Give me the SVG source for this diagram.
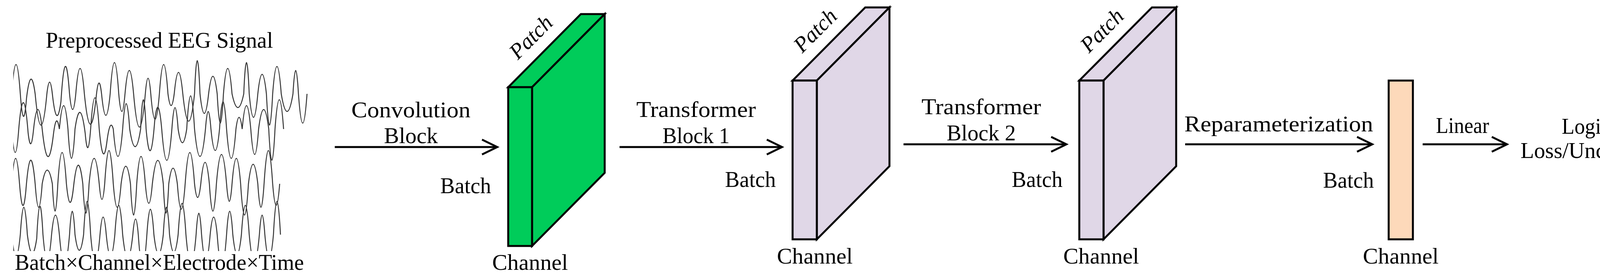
<svg xmlns="http://www.w3.org/2000/svg" width="4301" height="716" viewBox="0 0 4301 716">
<style>
.t{font-family:"Liberation Serif","DejaVu Serif",serif;font-size:56px;fill:#000}
.p{font-family:"Liberation Serif","DejaVu Serif",serif;font-size:56px;font-style:italic;fill:#000}
.c{text-anchor:middle}
.e{text-anchor:end}
.w{fill:none;stroke:#333;stroke-width:2.5}
.b{stroke:#000;stroke-width:5;stroke-linejoin:miter}
.a{stroke:#000;stroke-width:5;fill:none}
.g{fill:#00CC5A}.l{fill:#E0D7E7}.o{fill:#FDD9BA}
</style>
<defs>
<marker id="ar" markerUnits="userSpaceOnUse" markerWidth="50" markerHeight="50" refX="42" refY="22" orient="auto">
<path d="M3,3 L42,22 L3,41" fill="none" stroke="#000" stroke-width="5"/>
</marker>
<clipPath id="clip"><rect x="34" y="153" width="762" height="489"/></clipPath>
</defs>
<g id="eeg">
<text class="t c" x="408" y="122" textLength="582" lengthAdjust="spacingAndGlyphs">Preprocessed EEG Signal</text>
<g clip-path="url(#clip)">
<path class="w" d="M30,240 q11,-150 22,0 q8,110 16,10 q11,-90 22,-10 q15,160 30,0 q7,-60 14,0 q11,100 22,20 q11,-170 22,-20 q8,80 16,0 q11,-130 22,0 q15,150 30,10 q7,-70 14,-10 q11,110 22,0 q11,-160 22,0 q8,90 16,0 q11,-120 22,0 q15,170 30,0 q7,-80 14,0 q11,130 22,0 q11,-150 22,0 q8,60 16,0 q11,-110 22,0 q15,140 30,0 q7,-170 14,0 q11,100 22,0 q11,-90 22,0 q8,150 16,0 q11,-130 22,0 q15,70 30,0 q7,-160 14,0 q11,120 22,0 q11,-100 22,0 q8,160 16,0 q11,-140 22,0 q15,90 30,0 q7,-120 14,0 q11,150 22,0"/>
<path class="w" d="M30,330 q9,120 18,0 q12,-140 24,10 q7,60 14,-10 q11,-100 22,0 q14,130 28,20 q8,-70 16,-20 q11,-120 22,0 q9,150 18,0 q13,-90 26,10 q7,80 14,-10 q11,-160 22,0 q10,110 20,30 q8,-60 16,-30 q12,140 24,0 q9,-130 18,0 q14,90 28,0 q7,-150 14,0 q11,120 22,-20 q9,-80 18,20 q13,160 26,0 q8,-110 16,0 q11,70 22,0 q10,-170 20,0 q14,140 28,0 q7,-90 14,0 q11,110 22,0 q9,-140 18,0 q12,150 24,0 q8,-60 16,0 q11,-120 22,0 q10,130 20,0 q13,-100 26,0 q8,160 16,0 q11,-150 22,0"/>
<path class="w" d="M30,470 q10,-130 20,0 q8,100 16,20 q12,-150 24,-20 q9,120 18,0 q13,-70 26,0 q7,140 14,0 q11,-160 22,0 q9,90 18,10 q12,-110 24,-10 q8,150 16,0 q13,-130 26,0 q7,80 14,0 q11,-170 22,0 q10,120 20,0 q12,-90 24,0 q8,160 16,0 q11,-140 22,0 q9,100 18,0 q14,-120 28,0 q7,150 14,0 q11,-80 22,0 q10,130 20,0 q12,-160 24,0 q8,70 16,0 q11,-110 22,0 q9,140 18,0 q13,-150 26,0 q7,90 14,0 q11,-130 22,0 q10,160 20,0 q12,-100 24,0 q8,120 16,0 q11,-170 22,0 q9,110 18,0"/>
<path class="w" d="M30,600 q11,110 22,0 q9,-140 18,0 q12,90 24,10 q8,-160 16,-10 q11,130 22,0 q10,-100 20,0 q13,150 26,0 q7,-120 14,0 q11,80 22,0 q9,-170 18,0 q12,140 24,0 q8,-90 16,0 q11,110 22,0 q10,-150 20,0 q13,120 26,0 q7,-80 14,0 q11,160 22,0 q9,-130 18,0 q12,100 24,0 q8,-140 16,0 q11,90 22,0 q10,-160 20,0 q13,150 26,0 q7,-110 14,0 q11,130 22,0 q9,-90 18,0 q12,160 24,0 q8,-120 16,0 q11,100 22,0 q10,-150 20,0 q13,140 26,0 q7,-100 14,0 q11,120 22,0 q9,-170 18,0"/>
</g>
<text class="t c" x="408" y="690" textLength="740" lengthAdjust="spacingAndGlyphs">Batch×Channel×Electrode×Time</text>
</g>
<g id="conv-out">
<polygon class="b g" points="1301,223 1487,36 1548,36 1362,223"/>
<polygon class="b g" points="1362,223 1548,36 1548,442 1362,629"/>
<rect class="b g" x="1301" y="223" width="61" height="406"/>
<text class="p" transform="translate(1372,108) rotate(-45)" text-anchor="middle">Patch</text>
<text class="t e" x="1257" y="494" textLength="130" lengthAdjust="spacingAndGlyphs">Batch</text>
<text class="t c" x="1357" y="690" textLength="194" lengthAdjust="spacingAndGlyphs">Channel</text>
</g>
<g id="tf1-out">
<polygon class="b l" points="2029,206 2215,19 2277,19 2091,206"/>
<polygon class="b l" points="2091,206 2277,19 2277,425 2091,612"/>
<rect class="b l" x="2029" y="206" width="62" height="406"/>
<text class="p" transform="translate(2100,91) rotate(-45)" text-anchor="middle">Patch</text>
<text class="t e" x="1986" y="478" textLength="130" lengthAdjust="spacingAndGlyphs">Batch</text>
<text class="t c" x="2086" y="674" textLength="194" lengthAdjust="spacingAndGlyphs">Channel</text>
</g>
<g id="tf2-out">
<polygon class="b l" points="2763,206 2949,19 3011,19 2825,206"/>
<polygon class="b l" points="2825,206 3011,19 3011,425 2825,612"/>
<rect class="b l" x="2763" y="206" width="62" height="406"/>
<text class="p" transform="translate(2834,91) rotate(-45)" text-anchor="middle">Patch</text>
<text class="t e" x="2720" y="478" textLength="130" lengthAdjust="spacingAndGlyphs">Batch</text>
<text class="t c" x="2819" y="674" textLength="194" lengthAdjust="spacingAndGlyphs">Channel</text>
</g>
<g id="latent">
<rect class="b o" x="3555" y="206" width="62" height="406"/>
<text class="t e" x="3517" y="480" textLength="130" lengthAdjust="spacingAndGlyphs">Batch</text>
<text class="t c" x="3586" y="674" textLength="194" lengthAdjust="spacingAndGlyphs">Channel</text>
</g>
<g id="output">
<text class="t c" x="4088" y="342" textLength="180" lengthAdjust="spacingAndGlyphs">Logits +</text>
<text class="t c" x="4088" y="404" textLength="391" lengthAdjust="spacingAndGlyphs">Loss/Uncertainty</text>
</g>
<g id="connectors">
<line class="a" x1="857" y1="376" x2="1273" y2="376" marker-end="url(#ar)"/>
<text class="t c" x="1052" y="300" textLength="305" lengthAdjust="spacingAndGlyphs">Convolution</text>
<text class="t c" x="1052" y="366" textLength="138" lengthAdjust="spacingAndGlyphs">Block</text>
<line class="a" x1="1586" y1="376" x2="2002" y2="376" marker-end="url(#ar)"/>
<text class="t c" x="1782" y="299" textLength="306" lengthAdjust="spacingAndGlyphs">Transformer</text>
<text class="t c" x="1782" y="366" textLength="172" lengthAdjust="spacingAndGlyphs">Block 1</text>
<line class="a" x1="2313" y1="369" x2="2730" y2="369" marker-end="url(#ar)"/>
<text class="t c" x="2512" y="292" textLength="306" lengthAdjust="spacingAndGlyphs">Transformer</text>
<text class="t c" x="2512" y="359" textLength="177" lengthAdjust="spacingAndGlyphs">Block 2</text>
<line class="a" x1="3034" y1="369" x2="3513" y2="369" marker-end="url(#ar)"/>
<text class="t" x="3032" y="336" textLength="483" lengthAdjust="spacingAndGlyphs">Reparameterization</text>
<line class="a" x1="3642" y1="369" x2="3858" y2="369" marker-end="url(#ar)"/>
<text class="t c" x="3744" y="340" textLength="136" lengthAdjust="spacingAndGlyphs">Linear</text>
</g>
</svg>
